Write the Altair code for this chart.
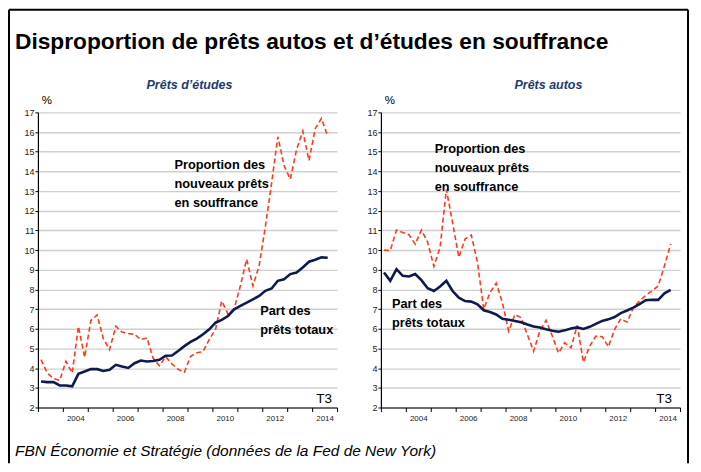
import altair as alt
import pandas as pd

# Quarterly observations, 2003 T1 .. 2014 T3
quarters = [f"{y}T{q}" for y in range(2003, 2015) for q in (1, 2, 3, 4)][:47]

student_new = [4.43, 3.75, 3.47, 3.38, 4.35, 3.75, 6.12, 4.55, 6.42, 6.70, 5.50, 4.94,
               6.13, 5.83, 5.76, 5.72, 5.45, 5.54, 4.49, 4.12, 4.58, 4.22, 3.94, 3.79,
               4.60, 4.78, 4.84, 5.46, 5.97, 7.41, 6.75, 7.02, 8.20, 9.54, 8.18, 9.20,
               11.2, 13.4, 15.76, 14.3, 13.6, 15.1, 16.05, 14.55, 16.17, 16.7, 15.78]
student_total = [3.32, 3.29, 3.29, 3.12, 3.12, 3.08, 3.71, 3.83, 3.95, 3.95, 3.86, 3.92,
                 4.17, 4.08, 4.01, 4.25, 4.39, 4.34, 4.36, 4.42, 4.63, 4.64, 4.87, 5.12,
                 5.33, 5.50, 5.72, 5.97, 6.31, 6.45, 6.65, 6.99, 7.16, 7.33, 7.50, 7.67,
                 7.93, 8.05, 8.44, 8.52, 8.78, 8.86, 9.12, 9.41, 9.51, 9.63, 9.61]
auto_new = [10.0, 9.97, 11.02, 10.9, 10.78, 10.3, 11.02, 10.4, 9.17, 10.14, 13.08, 11.4,
            9.63, 10.56, 10.77, 9.37, 6.99, 7.84, 8.32, 7.33, 5.88, 6.73, 6.56, 5.71,
            4.86, 5.88, 6.43, 5.63, 4.77, 5.29, 5.03, 6.17, 4.3, 5.12, 5.63, 5.6,
            5.08, 5.97, 6.51, 6.34, 7.07, 7.41, 7.7, 7.92, 8.18, 9.2, 10.31]
auto_total = [8.86, 8.44, 9.03, 8.69, 8.66, 8.78, 8.47, 8.06, 7.92, 8.15, 8.44, 7.92,
              7.58, 7.41, 7.38, 7.24, 6.94, 6.85, 6.73, 6.51, 6.46, 6.40, 6.33, 6.22,
              6.12, 6.07, 5.98, 5.90, 5.85, 5.92, 6.02, 6.07, 5.99, 6.10, 6.25, 6.40,
              6.48, 6.60, 6.80, 6.93, 7.08, 7.25, 7.45, 7.48, 7.47, 7.80, 7.98]

year_ticks = list(range(2003, 2016))
pct_ticks = list(range(2, 18))

title_text = "Disproportion de prêts autos et d’études en souffrance"
footer_text = "FBN Économie et Stratégie (données de la Fed de New York)"
panel_titles = ["Prêts d’études", "Prêts autos"]
label_new = ["Proportion des", "nouveaux prêts", "en souffrance"]
label_total = ["Part des", "prêts totaux"]

# time position of each quarter (mid-quarter)
t = [int(q[:4]) + (int(q[-1]) - 0.5) / 4 for q in quarters]

RED = "#FF3A1A"
NAVY = "#0E1A4E"
BLUE_T = "#1F3A70"
FONT = "Liberation Sans"

W, H = 300, 296

x_enc = alt.X(
    "t:Q",
    title=None,
    scale=alt.Scale(domain=[2003, 2015], nice=False, zero=False),
    axis=alt.Axis(
        values=year_ticks, format="d",
        labelExpr="(datum.value % 2 == 0 && datum.value < 2015) ? datum.label : ''",
        labelOffset=12.5, labelFlush=False, labelOverlap=False,
        grid=False, domainColor="black", domainWidth=1.2, tickColor="black",
        tickSize=4, tickWidth=1, labelFont=FONT, labelFontSize=8,
        labelColor="#222", labelPadding=3,
    ),
)
y_enc = alt.Y(
    "v:Q",
    title=None,
    scale=alt.Scale(domain=[2, 17], nice=False, zero=False),
    axis=alt.Axis(
        values=pct_ticks, grid=True, gridColor="#cfcfcf", gridWidth=1.4,
        domainColor="black", domainWidth=1.2, tickColor="black", tickSize=3,
        labelFont=FONT, labelFontSize=9, labelColor="#222", labelPadding=1,
    ),
)

one = pd.DataFrame({"k": [0]})


def txt(text, x, y, size=13, weight="bold", style="normal", color="black",
        align="left", font=FONT, line_height=19):
    return alt.Chart(one).mark_text(
        text=text, align=align, baseline="alphabetic", font=font, fontSize=size,
        fontWeight=weight, fontStyle=style, color=color, lineHeight=line_height,
    ).encode(x=alt.value(x), y=alt.value(y))


def panel(new, total, subtitle, sub_x, new_xy, tot_xy, t3_x, extras):
    df_new = pd.DataFrame({"t": t, "v": new})
    df_tot = pd.DataFrame({"t": t, "v": total})
    red = alt.Chart(df_new).mark_line(
        color=RED, strokeWidth=1.6, strokeDash=[5, 3]
    ).encode(x=x_enc, y=y_enc)
    navy = alt.Chart(df_tot).mark_line(
        color=NAVY, strokeWidth=2.6
    ).encode(x=x_enc, y=y_enc)
    layers = [red, navy,
              txt(subtitle, sub_x, -23, size=12.5, style="italic", color=BLUE_T,
                  align="center"),
              txt("%", 9, -8, size=11.5, weight="normal", align="center"),
              txt("T3", t3_x, 291, size=13.5, weight="normal", align="center"),
              txt(label_new, new_xy[0], new_xy[1], size=12.8),
              txt(label_total, tot_xy[0], tot_xy[1], size=12.8)]
    layers += extras
    return alt.layer(*layers).properties(width=W, height=H)


frame = alt.Chart(one).mark_rule(color="black", strokeWidth=2)
frame_layers = [
    frame.encode(x=alt.value(-29), x2=alt.value(652), y=alt.value(-103)),
    frame.encode(x=alt.value(-29), y=alt.value(-103), y2=alt.value(352)),
    frame.encode(x=alt.value(652), y=alt.value(-103), y2=alt.value(352)),
    txt(title_text, -23, -64, size=22.8),
    txt(footer_text, -23, 345, size=15.5, weight="normal", style="italic"),
]

left = panel(student_new, student_total, panel_titles[0], 152,
             (137, 57), (223, 203), 287, frame_layers)
right = panel(auto_new, auto_total, panel_titles[1], 168,
              (54, 41), (11, 196), 284, [])

chart = alt.hconcat(left, right, spacing=44, bounds="flush").properties(
    padding=0
).configure_view(stroke=None)

chart.save("out.html", embed_options={"renderer": "svg", "actions": False})
